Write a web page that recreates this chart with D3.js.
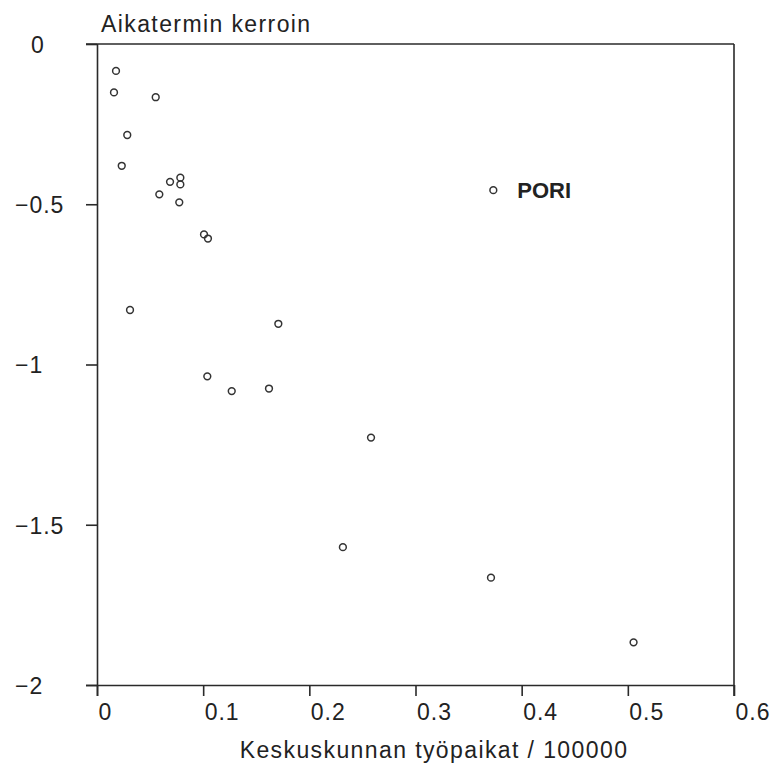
<!DOCTYPE html>
<html>
<head>
<meta charset="utf-8">
<script src="https://cdn.jsdelivr.net/npm/d3@7"></script>
<style>
  html, body { margin: 0; padding: 0; background: #fff; }
  svg { display: block; }
  text { font-family: "Liberation Sans", Arial, Helvetica, sans-serif; fill: #222; }
</style>
</head>
<body>
<svg id="chart" width="775" height="768"></svg>
<script>
// ---- data ----
const xValues = [0.0179, 0.0160, 0.0553, 0.0285, 0.0233, 0.0688, 0.0785, 0.0785, 0.0587, 0.0775,
                 0.1008, 0.1045, 0.0311, 0.1708, 0.1039, 0.1269, 0.1620, 0.2581, 0.2316, 0.3711,
                 0.5054, 0.3733];
const yValues = [-0.084, -0.151, -0.166, -0.284, -0.380, -0.430, -0.417, -0.438, -0.469, -0.494,
                 -0.594, -0.607, -0.830, -0.873, -1.037, -1.083, -1.075, -1.228, -1.570, -1.665,
                 -1.867, -0.456];
const pointLabels = ["", "", "", "", "", "", "", "", "", "", "", "", "", "", "", "", "", "", "", "", "", "PORI"];
const xTicks = [0, 0.1, 0.2, 0.3, 0.4, 0.5, 0.6];
const xTickLabels = ["0", "0.1", "0.2", "0.3", "0.4", "0.5", "0.6"];
const yTicks = [0, -0.5, -1, -1.5, -2];
const yTickLabels = ["0", "\u22120.5", "\u22121", "\u22121.5", "\u22122"];
const yTitle = "Aikatermin kerroin";
const xTitle = "Keskuskunnan työpaikat / 100000";

// ---- layout ----
const svg = d3.select("#chart");
const pL = 97, pR = 734, pT = 44, pB = 685;
const x = d3.scaleLinear().domain([0, 0.6]).range([pL, pR]);
const y = d3.scaleLinear().domain([-2, 0]).range([pB, pT]);
const ink = "#2a2a2a";

// frame lines (top and right)
svg.append("line").attr("x1", pL - 11).attr("x2", pR).attr("y1", y(0)).attr("y2", y(0))
  .attr("stroke", ink).attr("stroke-width", 1.6);
svg.append("line").attr("x1", pR).attr("x2", pR).attr("y1", pT).attr("y2", pB + 11)
  .attr("stroke", ink).attr("stroke-width", 1.6);

// x axis
const xAxis = svg.append("g").attr("transform", `translate(0,${pB})`)
  .call(d3.axisBottom(x).tickValues(xTicks).tickSize(11).tickSizeOuter(0)
    .tickFormat((d, i) => xTickLabels[i]));
xAxis.select(".domain").attr("stroke", ink).attr("stroke-width", 1.6)
  .attr("d", `M${pL - 11},0.5H${pR}`);
xAxis.selectAll(".tick line").attr("stroke", ink).attr("stroke-width", 1.6);
xAxis.selectAll(".tick text")
  .attr("text-anchor", "start").attr("x", 1).attr("y", 35).attr("dy", null)
  .style("font-size", "23px").style("letter-spacing", "1px").attr("fill", "#222");

// y axis
const yAxis = svg.append("g").attr("transform", `translate(${pL},0)`)
  .call(d3.axisLeft(y).tickValues(yTicks).tickSize(11).tickSizeOuter(0)
    .tickFormat((d, i) => yTickLabels[i]));
yAxis.select(".domain").attr("stroke", ink).attr("stroke-width", 1.6)
  .attr("d", `M0.5,${pT}V${pB + 11}`);
yAxis.selectAll(".tick line").attr("stroke", ink).attr("stroke-width", 1.6);
yAxis.selectAll(".tick text")
  .attr("text-anchor", "start")
  .attr("x", d => (d < 0 ? 15 : 31) - pL)
  .attr("dy", "0.36em")
  .style("font-size", "23px").style("letter-spacing", "1px").attr("fill", "#222");

// titles
svg.append("text").attr("x", 101).attr("y", 32).text(yTitle)
  .style("font-size", "23px").style("letter-spacing", "1.4px");
svg.append("text").attr("x", 434).attr("y", 758).attr("text-anchor", "middle").text(xTitle)
  .style("font-size", "23px").style("letter-spacing", "1.4px");

// points
const pts = xValues.map((v, i) => ({ x: v, y: yValues[i], label: pointLabels[i] }));
svg.append("g").selectAll("circle").data(pts).join("circle")
  .attr("cx", d => x(d.x)).attr("cy", d => y(d.y)).attr("r", 3.4)
  .attr("fill", "none").attr("stroke", "#333").attr("stroke-width", 1.5);

svg.append("g").selectAll("text").data(pts.filter(d => d.label)).join("text")
  .attr("x", d => x(d.x) + 24).attr("y", d => y(d.y)).attr("dy", "0.36em")
  .text(d => d.label)
  .style("font-size", "22px").style("font-weight", "bold").attr("fill", "#333");
</script>
</body>
</html>
